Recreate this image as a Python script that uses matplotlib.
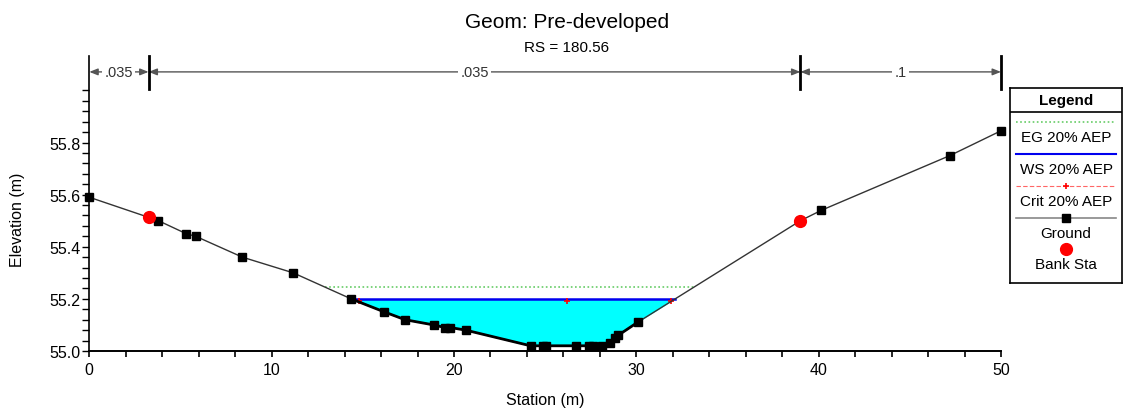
import numpy as np
import matplotlib
matplotlib.use("Agg")
import matplotlib.pyplot as plt

plt.rcParams['font.family'] = ['Liberation Sans', 'DejaVu Sans']

# ground survey points (station m, elevation m)
station = np.array([0.0, 3.25, 3.79, 5.32, 5.84, 8.40, 11.18, 14.36, 16.18, 17.32,
                    18.89, 19.5, 19.8, 20.65, 24.2, 24.9, 25.05, 26.7, 27.4, 27.65,
                    28.1, 28.55, 28.84, 29.0, 30.07, 39.0, 40.15, 47.2, 50.0])
ground = np.array([55.59, 55.513, 55.50, 55.45, 55.44, 55.36, 55.30, 55.20, 55.15, 55.12,
                   55.10, 55.09, 55.09, 55.08, 55.02, 55.02, 55.02, 55.02, 55.02, 55.02,
                   55.02, 55.03, 55.05, 55.06, 55.11, 55.50, 55.54, 55.75, 55.845])

bank_sta = [3.25, 39.0]
bank_elev = [55.513, 55.50]

eg_elev = 55.245
ws_elev = 55.20
crit_sta = [14.8, 26.2, 31.9]
crit_elev = [55.19, 55.19, 55.19]

# Manning's n regions
n_breaks = [0.0, 3.25, 39.0, 50.0]
n_values = ['.035', '.035', '.1']

title = "Geom: Pre-developed"
subtitle = "RS = 180.56"
legend_labels = ["EG 20% AEP", "WS 20% AEP", "Crit 20% AEP", "Ground", "Bank Sta"]


def crossings(x, y, level):
    xs = []
    for i in range(len(x) - 1):
        a, b = y[i] - level, y[i + 1] - level
        if a == 0:
            xs.append(x[i])
        elif a * b < 0:
            xs.append(x[i] + (x[i + 1] - x[i]) * a / (a - b))
    return min(xs), max(xs)


W, H = 1124, 414
fig = plt.figure(figsize=(W / 100, H / 100), dpi=100)
ax = fig.add_axes([89.3 / W, 62 / H, (1001 - 89.3) / W, (352 - 57) / H])

# water surface fill
ax.fill_between(station, ground, ws_elev, where=ground <= ws_elev,
                interpolate=True, color='#00ffff', lw=0, zorder=1)

eg_l, eg_r = crossings(station, ground, eg_elev)
ax.plot([eg_l, eg_r], [eg_elev, eg_elev], ls=(0, (1, 1.5)), color='#66cc66', lw=1.2, zorder=2)

ws_l, ws_r = crossings(station, ground, ws_elev)
ax.plot([ws_l, ws_r], [ws_elev, ws_elev], color='#0000ee', lw=1.8, zorder=3)

ax.plot(crit_sta, crit_elev, ls='none', marker='+', color='red', ms=5, mew=1.2, zorder=3)

ax.plot(station, ground, color='#333333', lw=1.0, zorder=4)
wet = ground <= ws_elev
ax.plot(station[wet], ground[wet], color='black', lw=2, zorder=4)
ax.plot(station, ground, ls='none', marker='s', ms=5.5, color='black', zorder=5, clip_on=False)
ax.plot(bank_sta, bank_elev, ls='none', marker='o', ms=8.5, color='red', zorder=6)

ax.set_xlim(0, 50)
ax.set_ylim(55.0, 56.132)

# Manning's n bars across the top
n_y = 56.071
for xb in n_breaks[1:]:
    ax.plot([xb, xb], [56.006, 56.132], color='black', lw=2, clip_on=False, zorder=6)
for a, b, n in zip(n_breaks[:-1], n_breaks[1:], n_values):
    ax.annotate('', xy=(a, n_y), xytext=(b, n_y),
                arrowprops=dict(arrowstyle='<|-|>,head_length=0.5,head_width=0.2',
                                color='#555555', lw=1, shrinkA=0, shrinkB=0))
    ax.text((a + b) / 2, n_y, n, ha='center', va='center', fontsize=10.5,
            color='#333333', bbox=dict(boxstyle='square,pad=0.15', fc='white', ec='none'))

for s in ['top', 'right']:
    ax.spines[s].set_visible(False)
ax.spines['left'].set_linewidth(1.2)
ax.spines['bottom'].set_linewidth(1.4)

ax.set_xticks(np.arange(0, 51, 10))
ax.set_xticks(np.arange(0, 51, 2), minor=True)
ax.set_yticks(np.round(np.arange(55.0, 55.81, 0.2), 2))
ax.set_yticks(np.arange(55.0, 56.01, 0.04), minor=True)
ax.set_yticklabels(['55.0', '55.2', '55.4', '55.6', '55.8'])
ax.tick_params(axis='x', which='both', direction='out', length=4, width=1.2, pad=4, labelsize=11.5)
ax.tick_params(axis='y', which='both', direction='out', length=5, width=1, pad=1.5, labelsize=11.5)

fig.text(567 / W, 1 - 22 / H, title, ha='center', va='center', fontsize=15)
fig.text(567 / W, 1 - 48 / H, subtitle, ha='center', va='center', fontsize=11)
fig.text(545.5 / W, 1 - 401 / H, "Station (m)", ha='center', va='center', fontsize=11.5)
fig.text(17.5 / W, 1 - 220 / H, "Elevation (m)", ha='center', va='center',
         rotation=90, fontsize=11.5)

# legend box
lax = fig.add_axes([1010 / W, (H - 284) / H, 112 / W, 195 / H])
lax.set_xlim(0, 112)
lax.set_ylim(284, 89)
lax.set_xticks([])
lax.set_yticks([])
for s in lax.spines.values():
    s.set_linewidth(1.2)
lax.text(56, 101, "Legend", ha='center', va='center', fontsize=11, fontweight='bold')
lax.plot([0, 112], [112.5, 112.5], color='black', lw=1.2)

rows = [123, 155, 187, 219, 250]
lax.plot([6, 106], [rows[0]] * 2, ls=(0, (1, 1.5)), color='#66cc66', lw=1.2)
lax.plot([6, 106], [rows[1]] * 2, color='#0000ee', lw=1.5)
lax.plot([6, 106], [rows[2]] * 2, ls=(0, (4, 2)), color='#ff6666', lw=0.8)
lax.plot([56], [rows[2]], marker='+', color='red', ms=5, mew=1.2)
lax.plot([6, 106], [rows[3]] * 2, color='#888888', lw=1.2)
lax.plot([56], [rows[3]], marker='s', color='black', ms=5.5)
lax.plot([56], [rows[4]], marker='o', color='red', ms=8.5)
for yr, lab in zip(rows, legend_labels):
    lax.text(56, yr + 15, lab, ha='center', va='center', fontsize=11)

fig.savefig("out.png", dpi=100)
